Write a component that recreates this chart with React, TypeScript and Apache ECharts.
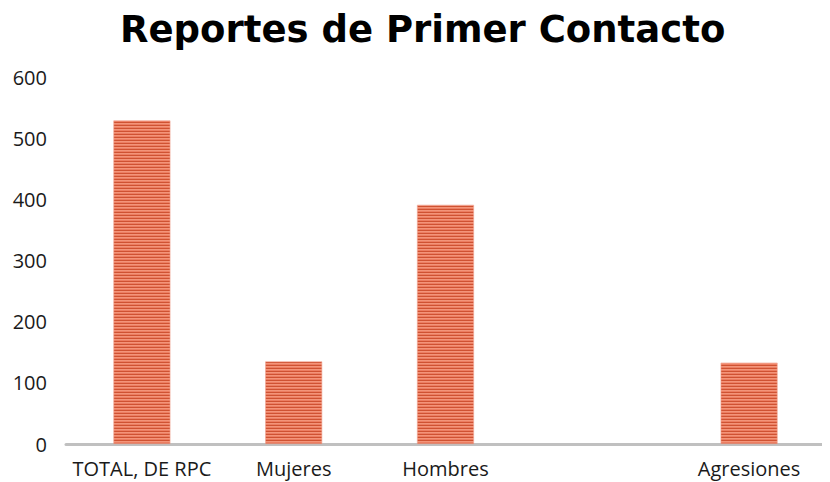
import React, { useEffect, useRef } from "react";
import * as echarts from "echarts";

const categories = ["TOTAL, DE RPC", "Mujeres", "Hombres", "", "Agresiones"];
const values: (number | null)[] = [529, 135, 391, null, 133];
const yTicks = [0, 100, 200, 300, 400, 500, 600];

function makeStripe(): string {
  const c = document.createElement("canvas");
  c.width = 4;
  c.height = 3;
  const ctx = c.getContext("2d")!;
  const rows = ["#cf5232", "#f39479", "#ec7e62"];
  rows.forEach((col, i) => {
    ctx.fillStyle = col;
    ctx.fillRect(0, i, 4, 1);
  });
  return c.toDataURL();
}

export default function App() {
  const ref = useRef<HTMLDivElement>(null);
  useEffect(() => {
    if (!ref.current) return;
    const chart = echarts.init(ref.current, undefined, { renderer: "svg" });
    const stripe = makeStripe();
    chart.setOption({
      animation: false,
      backgroundColor: "#ffffff",
      title: {
        text: "Reportes de Primer Contacto",
        left: 107,
        top: -2,
        padding: 5,
        textStyle: {
          fontFamily: "DejaVu Sans",
          fontWeight: "bold",
          fontSize: 37,
          color: "#000000",
        },
      },
      grid: { left: 58, right: 5, top: 69, bottom: 38, containLabel: false },
      xAxis: {
        type: "category",
        data: categories,
        axisTick: { show: false },
        axisLine: { lineStyle: { color: "#c0c0c0", width: 3 } },
        axisLabel: {
          margin: 14,
          interval: 0,
          fontFamily: "Open Sans",
          fontSize: 20,
          color: "#1a1a1a",
        },
      },
      yAxis: {
        type: "value",
        min: yTicks[0],
        max: yTicks[yTicks.length - 1],
        interval: 100,
        splitLine: { show: false },
        axisLine: { show: false },
        axisTick: { show: false },
        axisLabel: {
          margin: 19,
          fontFamily: "Open Sans",
          fontSize: 20,
          color: "#1a1a1a",
        },
      },
      series: [
        {
          type: "bar",
          data: values,
          barWidth: "37.5%",
          itemStyle: {
            color: { image: stripe, repeat: "repeat" },
            borderColor: "#f0a290",
            borderWidth: 0.6,
          },
        },
      ],
    });
    return () => chart.dispose();
  }, []);
  return <div ref={ref} style={{ width: 822, height: 474 }} />;
}
